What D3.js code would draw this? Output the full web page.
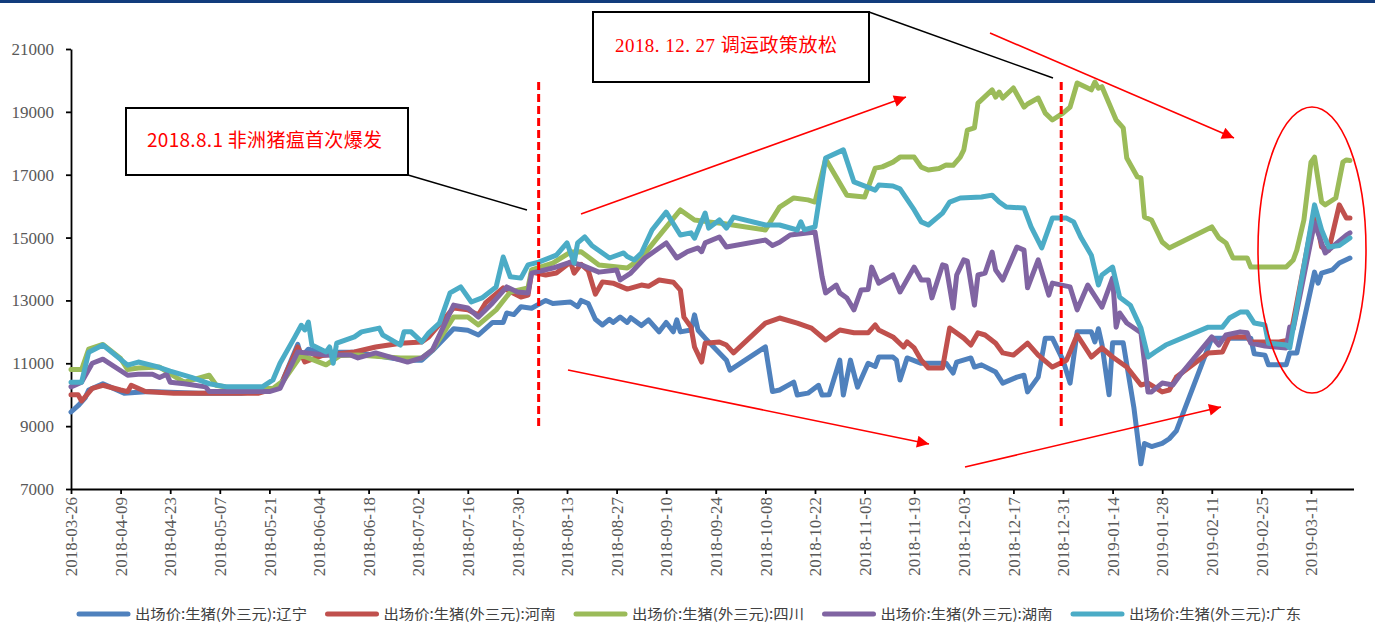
<!DOCTYPE html>
<html><head><meta charset="utf-8">
<script src="https://cdn.jsdelivr.net/npm/d3@7"></script>
<style>body{margin:0;background:#fff} svg{display:block}</style>
</head><body><svg id="c" width="1375" height="626"></svg>
<script>
// ---------------- DATA ----------------
const seriesNames = ["出场价:生猪(外三元):辽宁","出场价:生猪(外三元):河南","出场价:生猪(外三元):四川","出场价:生猪(外三元):湖南","出场价:生猪(外三元):广东"];
const seriesColors = ["#4F81BD","#C0504D","#9BBB59","#8064A2","#4BACC6"];
const yTicks = [7000,9000,11000,13000,15000,17000,19000,21000];
const xTickDates = ["2018-03-26","2018-04-09","2018-04-23","2018-05-07","2018-05-21","2018-06-04","2018-06-18","2018-07-02","2018-07-16","2018-07-30","2018-08-13","2018-08-27","2018-09-10","2018-09-24","2018-10-08","2018-10-22","2018-11-05","2018-11-19","2018-12-03","2018-12-17","2018-12-31","2019-01-14","2019-01-28","2019-02-11","2019-02-25","2019-03-11"];

const liaoning = [["2018-03-26",9450],["2018-03-28",9650],["2018-03-30",9900],["2018-03-31",10150],["2018-04-04",10350],["2018-04-10",10050],["2018-04-17",10100],["2018-05-01",10050],["2018-05-13",10050],["2018-05-21",10150],["2018-05-24",10250],["2018-05-29",11600],["2018-05-30",11200],["2018-06-01",11450],["2018-06-05",11350],["2018-06-14",11350],["2018-06-20",11250],["2018-06-28",11100],["2018-07-03",11100],["2018-07-06",11400],["2018-07-12",12100],["2018-07-16",12050],["2018-07-19",11900],["2018-07-23",12300],["2018-07-26",12300],["2018-07-27",12600],["2018-07-29",12550],["2018-07-31",12800],["2018-08-03",12750],["2018-08-07",13000],["2018-08-09",12900],["2018-08-14",12950],["2018-08-16",12800],["2018-08-17",13000],["2018-08-19",12900],["2018-08-21",12400],["2018-08-23",12220],["2018-08-25",12400],["2018-08-26",12300],["2018-08-28",12470],["2018-08-30",12300],["2018-08-31",12450],["2018-09-03",12200],["2018-09-05",12380],["2018-09-08",12000],["2018-09-10",12300],["2018-09-12",12000],["2018-09-13",12380],["2018-09-14",12000],["2018-09-17",12060],["2018-09-18",12540],["2018-09-19",12050],["2018-09-21",11800],["2018-09-27",11100],["2018-09-28",10780],["2018-10-08",11520],["2018-10-10",10100],["2018-10-12",10150],["2018-10-16",10400],["2018-10-17",9990],["2018-10-20",10050],["2018-10-23",10300],["2018-10-24",9990],["2018-10-26",10000],["2018-10-29",11100],["2018-10-30",9990],["2018-11-01",11100],["2018-11-03",10240],["2018-11-06",11000],["2018-11-08",10900],["2018-11-09",11200],["2018-11-13",11200],["2018-11-14",11100],["2018-11-15",10470],["2018-11-17",11170],["2018-11-21",11000],["2018-11-28",11000],["2018-11-30",10690],["2018-12-01",11040],["2018-12-05",11170],["2018-12-06",10880],["2018-12-08",10950],["2018-12-12",10720],["2018-12-14",10370],["2018-12-18",10560],["2018-12-20",10620],["2018-12-21",10090],["2018-12-24",10560],["2018-12-26",11800],["2018-12-28",11800],["2018-12-31",11100],["2019-01-02",10370],["2019-01-04",12000],["2019-01-08",12000],["2019-01-09",11680],["2019-01-10",12100],["2019-01-11",11600],["2019-01-13",10000],["2019-01-14",11650],["2019-01-17",11650],["2019-01-20",9600],["2019-01-22",7800],["2019-01-23",8450],["2019-01-25",8350],["2019-01-28",8450],["2019-01-30",8600],["2019-02-01",8850],["2019-02-11",11800],["2019-02-22",11800],["2019-02-23",11300],["2019-02-26",11260],["2019-02-27",10950],["2019-03-04",10950],["2019-03-05",11330],["2019-03-07",11330],["2019-03-12",13900],["2019-03-13",13550],["2019-03-14",13870],["2019-03-17",13970],["2019-03-19",14190],["2019-03-22",14350]];

const henan = [["2018-03-26",10000],["2018-03-28",10000],["2018-03-29",9800],["2018-04-01",10200],["2018-04-04",10300],["2018-04-09",10150],["2018-04-11",10100],["2018-04-12",10300],["2018-04-16",10100],["2018-04-24",10050],["2018-05-07",10050],["2018-05-18",10050],["2018-05-21",10150],["2018-05-24",10250],["2018-05-29",11520],["2018-05-31",11040],["2018-06-05",11250],["2018-06-14",11360],["2018-06-20",11520],["2018-06-27",11640],["2018-07-03",11680],["2018-07-05",11840],["2018-07-12",12760],["2018-07-16",12700],["2018-07-19",12540],["2018-07-21",12920],["2018-07-26",13400],["2018-07-31",13110],["2018-08-02",13170],["2018-08-03",13900],["2018-08-07",13810],["2018-08-10",13870],["2018-08-14",14220],["2018-08-15",13870],["2018-08-17",14150],["2018-08-19",13950],["2018-08-21",13200],["2018-08-23",13590],["2018-08-26",13550],["2018-08-30",13360],["2018-09-03",13490],["2018-09-05",13450],["2018-09-08",13650],["2018-09-12",13580],["2018-09-14",13330],["2018-09-15",12470],["2018-09-17",12150],["2018-09-18",11520],["2018-09-20",11040],["2018-09-21",11640],["2018-09-25",11680],["2018-09-27",11580],["2018-09-29",11330],["2018-10-08",12280],["2018-10-12",12440],["2018-10-17",12280],["2018-10-21",12120],["2018-10-25",11740],["2018-10-29",12060],["2018-11-02",11970],["2018-11-06",11970],["2018-11-08",12220],["2018-11-09",12060],["2018-11-13",11840],["2018-11-16",11520],["2018-11-17",11680],["2018-11-19",11490],["2018-11-21",11100],["2018-11-23",10850],["2018-11-27",10850],["2018-11-29",12120],["2018-12-03",11800],["2018-12-05",11580],["2018-12-07",11970],["2018-12-09",11900],["2018-12-12",11640],["2018-12-14",11330],["2018-12-17",11260],["2018-12-21",11640],["2018-12-24",11260],["2018-12-28",10880],["2019-01-01",11100],["2019-01-04",11900],["2019-01-08",11200],["2019-01-11",11490],["2019-01-14",11200],["2019-01-18",10880],["2019-01-22",10310],["2019-01-24",10370],["2019-01-28",10090],["2019-01-30",10150],["2019-02-01",10560],["2019-02-10",11330],["2019-02-14",11360],["2019-02-16",11840],["2019-02-21",11840],["2019-02-22",11680],["2019-03-02",11680],["2019-03-05",11740],["2019-03-07",12920],["2019-03-12",15880],["2019-03-14",14700],["2019-03-16",14600],["2019-03-19",16040],["2019-03-21",15620],["2019-03-22",15620]];

const sichuan = [["2018-03-26",10800],["2018-03-29",10800],["2018-03-31",11450],["2018-04-04",11600],["2018-04-09",11150],["2018-04-11",10800],["2018-04-14",10850],["2018-04-20",10880],["2018-04-25",10530],["2018-04-27",10400],["2018-05-04",10620],["2018-05-06",10300],["2018-05-09",10240],["2018-05-22",10200],["2018-05-25",10450],["2018-05-30",11260],["2018-06-06",10950],["2018-06-10",11250],["2018-06-15",11260],["2018-06-27",11170],["2018-07-03",11170],["2018-07-06",11420],["2018-07-12",12470],["2018-07-16",12470],["2018-07-19",12220],["2018-07-24",12700],["2018-07-28",13270],["2018-08-02",13400],["2018-08-03",13970],["2018-08-09",14190],["2018-08-14",14540],["2018-08-17",14550],["2018-08-22",14130],["2018-08-30",14030],["2018-09-03",14350],["2018-09-07",14920],["2018-09-14",15880],["2018-09-18",15560],["2018-09-22",15500],["2018-09-26",15450],["2018-10-08",15240],["2018-10-12",15970],["2018-10-16",16260],["2018-10-20",16200],["2018-10-22",16130],["2018-10-25",17500],["2018-10-31",16350],["2018-11-05",16290],["2018-11-08",17210],["2018-11-10",17250],["2018-11-13",17400],["2018-11-15",17560],["2018-11-19",17560],["2018-11-21",17240],["2018-11-23",17150],["2018-11-26",17200],["2018-11-28",17310],["2018-11-30",17300],["2018-12-02",17560],["2018-12-03",17790],["2018-12-04",18420],["2018-12-06",18490],["2018-12-07",19280],["2018-12-11",19700],["2018-12-12",19470],["2018-12-13",19630],["2018-12-14",19440],["2018-12-17",19760],["2018-12-20",19150],["2018-12-21",19250],["2018-12-24",19440],["2018-12-26",18960],["2018-12-28",18740],["2018-12-31",18960],["2019-01-02",19150],["2019-01-04",19920],["2019-01-08",19700],["2019-01-09",19950],["2019-01-10",19750],["2019-01-11",19800],["2019-01-15",18740],["2019-01-17",18490],["2019-01-18",17530],["2019-01-21",16930],["2019-01-22",16900],["2019-01-23",15650],["2019-01-25",15560],["2019-01-28",14860],["2019-01-30",14670],["2019-02-11",15340],["2019-02-13",14990],["2019-02-15",14830],["2019-02-17",14350],["2019-02-21",14350],["2019-02-22",14060],["2019-03-04",14060],["2019-03-06",14290],["2019-03-07",14600],["2019-03-09",15560],["2019-03-11",17400],["2019-03-12",17560],["2019-03-14",16130],["2019-03-15",16040],["2019-03-18",16260],["2019-03-20",17400],["2019-03-21",17470],["2019-03-22",17450]];

const hunan = [["2018-03-26",10250],["2018-03-29",10400],["2018-04-01",11000],["2018-04-04",11130],["2018-04-11",10620],["2018-04-14",10650],["2018-04-18",10650],["2018-04-20",10550],["2018-04-22",10650],["2018-04-23",10400],["2018-04-27",10350],["2018-05-03",10250],["2018-05-04",10100],["2018-05-21",10100],["2018-05-24",10200],["2018-05-29",11360],["2018-06-06",11260],["2018-06-13",11260],["2018-06-15",11170],["2018-06-20",11330],["2018-06-29",11040],["2018-07-03",11170],["2018-07-06",11420],["2018-07-12",12850],["2018-07-16",12760],["2018-07-19",12470],["2018-07-23",12920],["2018-07-27",13430],["2018-07-30",13270],["2018-08-02",13240],["2018-08-03",13870],["2018-08-09",14030],["2018-08-14",14220],["2018-08-17",14130],["2018-08-22",13900],["2018-08-27",13970],["2018-08-28",13650],["2018-08-31",13870],["2018-09-04",14350],["2018-09-10",14830],["2018-09-13",14350],["2018-09-16",14550],["2018-09-19",14670],["2018-09-20",14550],["2018-09-21",14830],["2018-09-25",15020],["2018-09-27",14700],["2018-10-08",14920],["2018-10-10",14750],["2018-10-12",14850],["2018-10-15",15080],["2018-10-18",15120],["2018-10-22",15180],["2018-10-24",13750],["2018-10-25",13240],["2018-10-28",13490],["2018-10-29",13240],["2018-10-31",13080],["2018-11-02",12700],["2018-11-04",13330],["2018-11-06",13350],["2018-11-07",14060],["2018-11-09",13550],["2018-11-13",13810],["2018-11-15",13270],["2018-11-19",14060],["2018-11-21",13650],["2018-11-23",13650],["2018-11-24",13080],["2018-11-27",14130],["2018-11-28",14100],["2018-11-30",12760],["2018-12-01",13810],["2018-12-03",14290],["2018-12-04",14250],["2018-12-06",12850],["2018-12-07",13810],["2018-12-09",13870],["2018-12-11",14540],["2018-12-12",13970],["2018-12-14",13650],["2018-12-18",14700],["2018-12-20",14600],["2018-12-21",13400],["2018-12-24",14290],["2018-12-27",13170],["2018-12-28",13550],["2019-01-02",13430],["2019-01-04",12700],["2019-01-07",13490],["2019-01-11",12790],["2019-01-14",13710],["2019-01-15",12150],["2019-01-16",12600],["2019-01-18",12280],["2019-01-22",11970],["2019-01-24",10090],["2019-01-25",10090],["2019-01-28",10370],["2019-01-31",10310],["2019-02-02",10620],["2019-02-11",11840],["2019-02-13",11580],["2019-02-15",11900],["2019-02-19",12000],["2019-02-21",11970],["2019-02-22",11640],["2019-02-26",11550],["2019-03-04",11490],["2019-03-05",12150],["2019-03-06",12100],["2019-03-12",15470],["2019-03-15",14510],["2019-03-17",14700],["2019-03-21",15080],["2019-03-22",15150]];

const guangdong = [["2018-03-26",10400],["2018-03-29",10400],["2018-03-31",11350],["2018-04-04",11580],["2018-04-11",10940],["2018-04-14",11040],["2018-04-19",10900],["2018-04-23",10750],["2018-04-29",10550],["2018-05-04",10350],["2018-05-09",10250],["2018-05-19",10250],["2018-05-22",10470],["2018-05-24",11000],["2018-05-28",11800],["2018-05-30",12210],["2018-05-31",12060],["2018-06-01",12310],["2018-06-02",11580],["2018-06-06",11360],["2018-06-07",11520],["2018-06-08",11000],["2018-06-09",11640],["2018-06-14",11840],["2018-06-16",12000],["2018-06-21",12120],["2018-06-22",11900],["2018-06-27",11580],["2018-06-28",12000],["2018-06-30",12000],["2018-07-03",11680],["2018-07-05",11970],["2018-07-08",12280],["2018-07-11",13240],["2018-07-14",13430],["2018-07-17",12950],["2018-07-20",13080],["2018-07-24",13430],["2018-07-26",14380],["2018-07-28",13750],["2018-07-31",13710],["2018-08-02",14130],["2018-08-05",14220],["2018-08-10",14440],["2018-08-13",14830],["2018-08-15",14190],["2018-08-16",14830],["2018-08-18",15020],["2018-08-20",14750],["2018-08-25",14350],["2018-08-29",14510],["2018-08-30",14400],["2018-09-01",14290],["2018-09-03",14510],["2018-09-06",15240],["2018-09-10",15810],["2018-09-14",15080],["2018-09-17",15150],["2018-09-18",14980],["2018-09-21",15780],["2018-09-22",15300],["2018-09-25",15560],["2018-09-27",15300],["2018-09-29",15650],["2018-10-08",15400],["2018-10-12",15400],["2018-10-17",15240],["2018-10-18",15500],["2018-10-19",15250],["2018-10-22",15340],["2018-10-25",17530],["2018-10-30",17790],["2018-11-02",16770],["2018-11-08",16510],["2018-11-09",16670],["2018-11-13",16640],["2018-11-15",16550],["2018-11-19",15880],["2018-11-21",15500],["2018-11-23",15400],["2018-11-27",15780],["2018-11-29",16130],["2018-12-02",16260],["2018-12-08",16290],["2018-12-11",16350],["2018-12-13",16130],["2018-12-15",15970],["2018-12-20",15940],["2018-12-22",15340],["2018-12-25",14670],["2018-12-28",15620],["2019-01-01",15620],["2019-01-03",15500],["2019-01-05",15020],["2019-01-08",14440],["2019-01-10",13490],["2019-01-11",13810],["2019-01-14",14060],["2019-01-16",13100],["2019-01-19",12850],["2019-01-22",12120],["2019-01-24",11200],["2019-01-26",11360],["2019-01-29",11580],["2019-02-10",12150],["2019-02-14",12150],["2019-02-16",12440],["2019-02-19",12630],["2019-02-21",12630],["2019-02-23",12280],["2019-02-26",12220],["2019-02-27",11640],["2019-03-04",11580],["2019-03-05",11490],["2019-03-12",16040],["2019-03-14",15240],["2019-03-16",14700],["2019-03-19",14750],["2019-03-22",14990]];

const allSeries = [liaoning, henan, sichuan, hunan, guangdong];

// annotation texts / event dates
const eventDates = ["2018-08-05T00:00:00Z","2018-12-30T12:00:00Z"];
const eventRange = [19950, 8940];
const note1 = "2018.8.1 非洲猪瘟首次爆发";
const note2 = "2018. 12. 27 调运政策放松";

// ---------------- CHART ----------------
const svg = d3.select("#c");
const parse = d3.utcParse("%Y-%m-%d");
const x = d3.scaleUtc().domain([parse("2018-03-26"), parse("2019-03-23")]).range([71, 1353.5]);
const y = d3.scaleLinear().domain([7000, 21000]).range([489, 49]);

svg.append("rect").attr("x",0).attr("y",0).attr("width",1375).attr("height",3).attr("fill","#123c7c");

// axes
const gy = svg.append("g").attr("transform","translate(71,0)")
  .call(d3.axisLeft(y).tickValues(yTicks).tickSize(5).tickSizeOuter(0).tickPadding(12).tickFormat(d3.format("d")));
gy.selectAll("text").attr("font-family","'Liberation Serif','Times New Roman',serif").attr("font-size",17).attr("fill","#595959");
gy.selectAll("line,path").attr("stroke","#000").attr("stroke-width",1.8);

const gx = svg.append("g").attr("transform","translate(0,489)")
  .call(d3.axisBottom(x).tickValues(xTickDates.map(parse)).tickSize(5).tickSizeOuter(0).tickFormat(d3.utcFormat("%Y-%m-%d")));
gx.selectAll("text").attr("font-family","'Liberation Serif','Times New Roman',serif").attr("font-size",17).attr("fill","#595959")
  .attr("transform","rotate(-90)").attr("text-anchor","end").attr("x",-8).attr("y",0).attr("dy","0.33em");
gx.selectAll("line,path").attr("stroke","#000").attr("stroke-width",1.8);

// lines
const line = d3.line().x(d => x(parse(d[0]))).y(d => y(d[1]));
svg.append("g").selectAll("path").data(allSeries).join("path")
  .attr("d", line).attr("fill","none")
  .attr("stroke",(d,i)=>seriesColors[i]).attr("stroke-width",5)
  .attr("stroke-linejoin","round").attr("stroke-linecap","round");

// annotations
const ann = svg.append("g");
eventDates.forEach(s => {
  const xx = x(d3.isoParse(s));
  ann.append("line").attr("x1",xx).attr("x2",xx).attr("y1",y(eventRange[0])).attr("y2",y(eventRange[1]))
    .attr("stroke","#FF0000").attr("stroke-width",3).attr("stroke-dasharray","8,4");
});
// leader lines
ann.append("line").attr("x1",408).attr("y1",175).attr("x2",527).attr("y2",210).attr("stroke","#000").attr("stroke-width",1.5);
ann.append("line").attr("x1",869).attr("y1",12).attr("x2",1053).attr("y2",78).attr("stroke","#000").attr("stroke-width",1.5);
// boxes
ann.append("rect").attr("x",126).attr("y",108).attr("width",282).attr("height",67).attr("fill","#fff").attr("stroke","#000").attr("stroke-width",2);
ann.append("text").attr("x",147).attr("y",147).attr("fill","#FF0000").attr("font-size",19)
  .attr("font-family","'Noto Sans CJK SC','Noto Sans',sans-serif").attr("textLength",235).attr("lengthAdjust","spacing").text(note1);
ann.append("rect").attr("x",593).attr("y",12).attr("width",276).attr("height",70).attr("fill","#fff").attr("stroke","#000").attr("stroke-width",2);
ann.append("text").attr("x",615).attr("y",52).attr("fill","#FF0000").attr("font-size",19)
  .attr("font-family","'Liberation Serif','Noto Sans CJK SC',serif").attr("textLength",222).attr("lengthAdjust","spacing").text(note2);

// arrows
const defs = svg.append("defs");
defs.append("marker").attr("id","ah").attr("viewBox","0 0 10 10").attr("refX",10).attr("refY",5)
  .attr("markerWidth",16).attr("markerHeight",12).attr("markerUnits","userSpaceOnUse").attr("orient","auto")
  .append("path").attr("d","M0,0 L10,5 L0,10 Z").attr("fill","#FF0000");
const arrows = [[581,214,906,97],[568,370,929,444],[990,33,1234,138],[965,467,1221,407]];
arrows.forEach(a => {
  ann.append("line").attr("x1",a[0]).attr("y1",a[1]).attr("x2",a[2]).attr("y2",a[3])
    .attr("stroke","#FF0000").attr("stroke-width",1.6).attr("marker-end","url(#ah)");
});
ann.append("ellipse").attr("cx",1312).attr("cy",250).attr("rx",54).attr("ry",143)
  .attr("fill","none").attr("stroke","#FF0000").attr("stroke-width",1.6);

// legend
const lg = svg.append("g");
seriesNames.forEach((n,i) => {
  const x0 = 79 + i*248.5;
  lg.append("line").attr("x1",x0).attr("x2",x0+49).attr("y1",614).attr("y2",614)
    .attr("stroke",seriesColors[i]).attr("stroke-width",5).attr("stroke-linecap","round");
  lg.append("text").attr("x",x0+56).attr("y",619).attr("font-size",14).attr("fill","#404040")
    .attr("font-family","'Noto Sans CJK SC',sans-serif").attr("textLength",172).attr("lengthAdjust","spacingAndGlyphs").text(n);
});
</script></body></html>
